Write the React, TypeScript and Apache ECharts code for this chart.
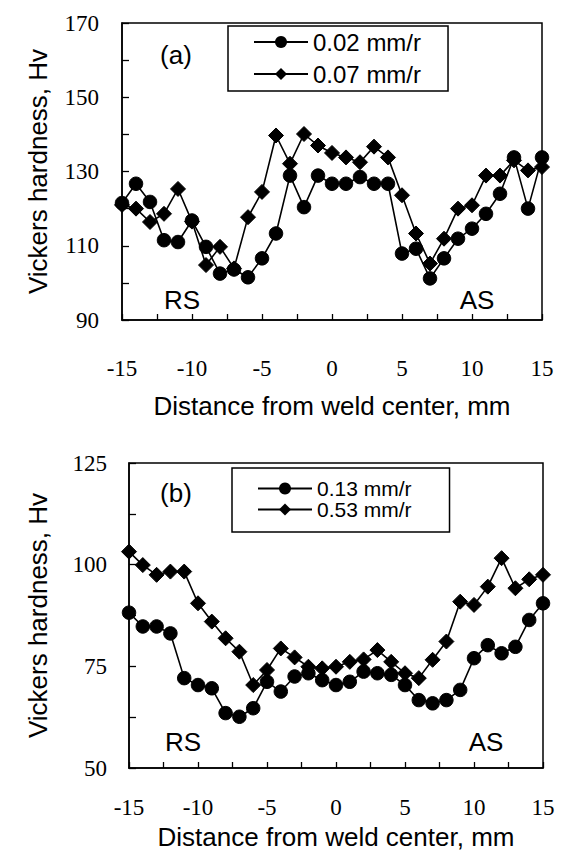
import React, { useEffect, useRef } from "react";
import * as echarts from "echarts";

const distance = [-15, -14, -13, -12, -11, -10, -9, -8, -7, -6, -5, -4, -3, -2, -1, 0, 1, 2, 3, 4, 5, 6, 7, 8, 9, 10, 11, 12, 13, 14, 15];

// (a)
const hvA002 = [121.5, 126.7, 121.8, 111.5, 111.0, 116.8, 109.7, 102.5, 103.6, 101.5, 106.6, 113.3, 128.9, 120.4, 128.9, 126.7, 126.7, 128.5, 126.7, 126.7, 107.9, 109.2, 101.2, 106.6, 111.9, 114.6, 118.6, 124.0, 133.8, 120.0, 133.8];
const hvA007 = [121.0, 120.0, 116.4, 118.6, 125.3, 116.5, 104.8, 109.7, 103.9, 117.7, 124.5, 139.7, 132.1, 140.1, 137.0, 135.0, 133.8, 132.5, 136.7, 133.8, 123.6, 113.3, 105.2, 111.9, 120.0, 120.9, 128.9, 128.9, 133.0, 130.3, 131.2];

// (b)
const hvB013 = [88.2, 84.8, 84.8, 83.1, 72.1, 70.4, 69.6, 63.5, 62.6, 64.7, 71.2, 68.8, 72.5, 73.3, 71.6, 70.4, 71.2, 73.7, 73.3, 72.9, 70.4, 66.7, 65.9, 66.7, 69.2, 77.0, 80.2, 78.2, 79.8, 86.4, 90.5];
const hvB053 = [103.2, 99.9, 97.5, 98.3, 98.3, 90.5, 86.0, 81.9, 78.6, 70.4, 74.1, 79.4, 77.2, 74.9, 74.5, 74.9, 76.1, 76.7, 79.0, 76.1, 73.3, 72.1, 76.6, 81.1, 90.9, 90.1, 94.6, 101.6, 94.2, 96.4, 97.5];

const legendA = ["0.02 mm/r", "0.07 mm/r"];
const legendB = ["0.13 mm/r", "0.53 mm/r"];

const xTitle = "Distance from weld center, mm";
const yTitle = "Vickers hardness, Hv";

const SANS = "'Liberation Sans', Arial, Helvetica, sans-serif";
const SERIF = "'Liberation Serif', 'Times New Roman', serif";

const pairs = (ys: number[]) => ys.map((y, i) => [distance[i], y]);

export default function App() {
  const ref = useRef<HTMLDivElement>(null);
  useEffect(() => {
    if (!ref.current) return;
    const chart = echarts.init(ref.current, null, { renderer: "svg" });

    const xAxisBase = (gridIndex: number, labelMargin: number, nameGap: number) => ({
      type: "value",
      gridIndex,
      min: -15,
      max: 15,
      interval: 2.5,
      name: xTitle,
      nameLocation: "middle",
      nameGap,
      nameTextStyle: { fontFamily: SANS, fontSize: 26, color: "#000" },
      axisLine: { show: true, onZero: false, lineStyle: { color: "#000", width: 1.5 } },
      axisTick: { show: true, inside: true, length: 6, lineStyle: { color: "#000", width: 1.3 } },
      axisLabel: {
        margin: labelMargin,
        fontFamily: SERIF,
        fontSize: 23,
        color: "#000",
        formatter: (v: number) => (v % 5 === 0 ? String(v) : ""),
      },
      splitLine: { show: false },
    });

    const yAxisBase = (gridIndex: number, min: number, max: number, interval: number, labelEvery: number, nameGap: number, labelMargin: number) => ({
      type: "value",
      gridIndex,
      min,
      max,
      interval,
      name: yTitle,
      nameLocation: "middle",
      nameGap,
      nameTextStyle: { fontFamily: SANS, fontSize: 26, color: "#000" },
      axisLine: { show: true, onZero: false, lineStyle: { color: "#000", width: 1.5 } },
      axisTick: { show: true, inside: true, length: 7, lineStyle: { color: "#000", width: 1.3 } },
      axisLabel: {
        margin: labelMargin,
        fontFamily: SERIF,
        fontSize: 23,
        color: "#000",
        formatter: (v: number) => (Math.abs((v - min) % labelEvery) < 1e-6 ? String(v) : ""),
      },
      splitLine: { show: false },
    });

    const lineSeries = (name: string, ys: number[], idx: number, symbol: string, size: number, z: number) => ({
      type: "line",
      name,
      xAxisIndex: idx,
      yAxisIndex: idx,
      data: pairs(ys),
      symbol,
      symbolSize: size,
      showAllSymbol: true,
      z,
      lineStyle: { color: "#000", width: 1.6 },
      itemStyle: { color: "#000", borderColor: "#000" },
      emphasis: { disabled: true },
    });

    const legendCommon = {
      orient: "vertical",
      itemWidth: 54,
      itemHeight: 15,
      borderColor: "#000",
      borderWidth: 1.5,
      selectedMode: false,
    };

    const annot = (text: string, x: number, y: number) => ({
      type: "text",
      x,
      y,
      style: { text, fontFamily: SANS, fontSize: 26, fill: "#000", textAlign: "center", textVerticalAlign: "middle" },
    });

    chart.setOption({
      animation: false,
      backgroundColor: "#fff",
      grid: [
        { left: 122, top: 23, width: 420, height: 297, show: true, borderColor: "#000", borderWidth: 1.5, backgroundColor: "transparent" },
        { left: 129, top: 463, width: 414, height: 305, show: true, borderColor: "#000", borderWidth: 1.5, backgroundColor: "transparent" },
      ],
      xAxis: [xAxisBase(0, 37, 73), xAxisBase(1, 28, 56)],
      yAxis: [
        yAxisBase(0, 90, 170, 10, 20, 71, 23),
        yAxisBase(1, 50, 125, 12.5, 25, 78, 22),
      ],
      legend: [
        {
          ...legendCommon,
          data: legendA,
          left: 228,
          top: 26,
          padding: [4, 27, 5, 25],
          itemGap: 8,
          textStyle: { fontFamily: SANS, fontSize: 24, color: "#000" },
        },
        {
          ...legendCommon,
          data: legendB,
          left: 232,
          top: 468,
          padding: [10, 38, 12, 25],
          itemGap: 0,
          textStyle: { fontFamily: SANS, fontSize: 21, color: "#000" },
        },
      ],
      series: [
        lineSeries(legendA[1], hvA007, 0, "diamond", 15, 2),
        lineSeries(legendA[0], hvA002, 0, "circle", 13.5, 3),
        lineSeries(legendB[1], hvB053, 1, "diamond", 15, 2),
        lineSeries(legendB[0], hvB013, 1, "circle", 13.5, 3),
      ],
      graphic: [
        annot("(a)", 176, 55),
        annot("RS", 182, 300),
        annot("AS", 477, 300),
        annot("(b)", 176, 493),
        annot("RS", 183, 742),
        annot("AS", 486, 742),
      ],
    });

    return () => chart.dispose();
  }, []);

  return (
    <div
      ref={ref}
      style={{ position: "absolute", left: 0, top: 0, width: 568, height: 858, background: "#fff" }}
    />
  );
}
